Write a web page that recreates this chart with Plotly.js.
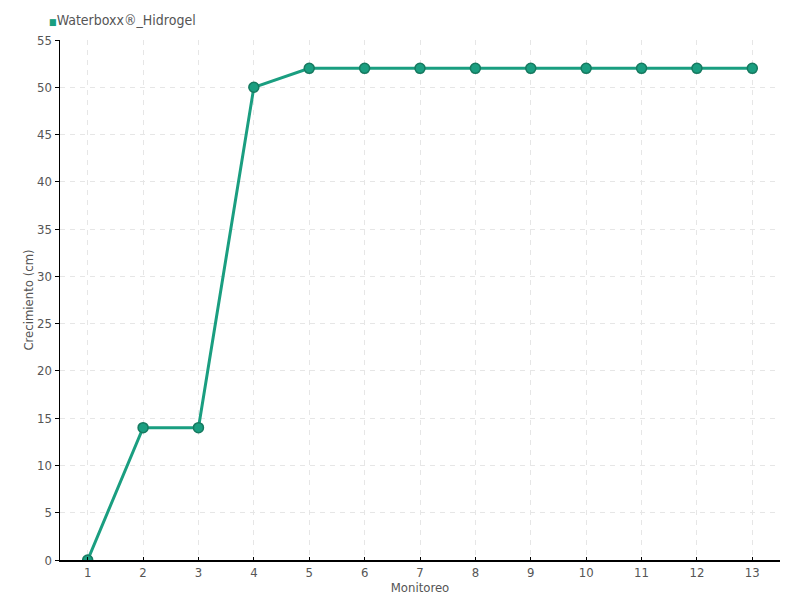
<!DOCTYPE html>
<html><head><meta charset="utf-8">
<script src="https://cdn.plot.ly/plotly-3.0.1.min.js"></script>
<style>body{margin:0;background:#fff}#c{width:800px;height:600px}</style>
</head><body><div id="c"></div>
<script>
const seriesName = "Waterboxx®_Hidrogel";
const monitoreo = [1,2,3,4,5,6,7,8,9,10,11,12,13];
const crecimiento = [0,14,14,50,52,52,52,52,52,52,52,52,52];
const xTitle = "Monitoreo";
const yTitle = "Crecimiento (cm)";
const lineColor = "#1a9e80";
const markerLine = "#167a60";
const fontFam = "'Liberation Sans Narrow','DejaVu Sans Condensed',sans-serif";

const trace = {
  x: monitoreo, y: crecimiento, type: 'scatter', mode: 'lines+markers', name: seriesName,
  line: {color: lineColor, width: 3},
  marker: {color: lineColor, size: 10, line: {color: markerLine, width: 1.5}},
  showlegend: false
};
const layout = {
  width: 800, height: 600,
  margin: {l: 60, r: 20, t: 40, b: 40},
  paper_bgcolor: '#fff', plot_bgcolor: '#fff',
  font: {family: fontFam, size: 13, color: '#555'},
  xaxis: {
    range: [0.5, 13.5], tickvals: monitoreo, ticktext: monitoreo.map(String),
    showline: true, linecolor: '#000', linewidth: 1.5,
    ticks: 'inside', ticklen: 3, tickcolor: '#000',
    showgrid: true, gridcolor: '#e6e6e6', griddash: '5px,5px', gridwidth: 1,
    zeroline: false,
    title: {text: xTitle, standoff: 0, font: {size: 13, color: '#555'}},
    tickfont: {size: 13, color: '#555'}
  },
  yaxis: {
    range: [0, 55], dtick: 5,
    showline: true, linecolor: '#000', linewidth: 1.5,
    ticks: 'outside', ticklen: 4, tickcolor: '#000',
    showgrid: true, gridcolor: '#e6e6e6', griddash: '5px,5px', gridwidth: 1,
    zeroline: false,
    title: {text: yTitle, standoff: 0, font: {size: 13, color: '#555'}},
    tickfont: {size: 13, color: '#555'}
  },
  annotations: [{
    xref: 'paper', yref: 'paper', x: -0.018, y: 1.0, yshift: 20,
    xanchor: 'left', yanchor: 'middle', showarrow: false, align: 'left',
    text: '<span style="color:' + lineColor + ';font-size:9px">■</span>' + seriesName,
    font: {family: fontFam, size: 14, color: '#555'}
  }]
};
Plotly.newPlot('c', [trace], layout, {displayModeBar: false, staticPlot: true});
</script></body></html>
